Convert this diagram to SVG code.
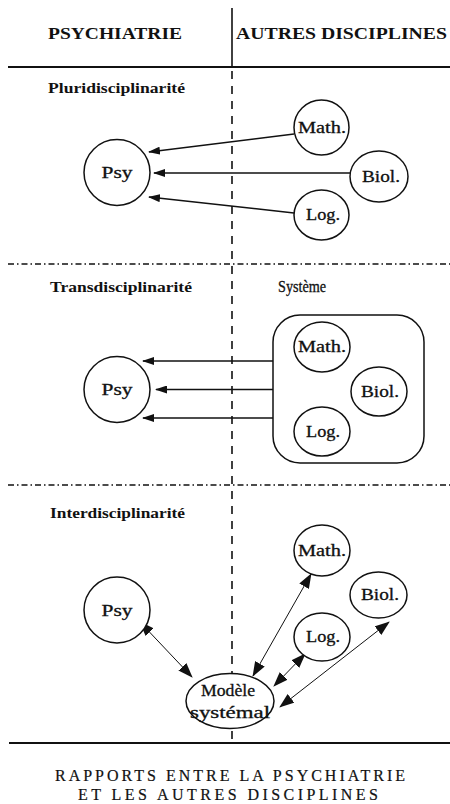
<svg xmlns="http://www.w3.org/2000/svg" width="450" height="804" viewBox="0 0 450 804">
  <style>
    .bg { fill: #ffffff; }
    .rule { stroke: #111; stroke-width: 2; fill: none; }
    .vsolid { stroke: #111; stroke-width: 1.6; fill: none; }
    .vdash { stroke: #111; stroke-width: 1.6; fill: none; stroke-dasharray: 8 7; }
    .dashdot { stroke: #111; stroke-width: 1.6; fill: none; stroke-dasharray: 6 3 1.5 3; }
    .node { fill: #fff; stroke: #111; stroke-width: 1.5; }
    .frame { fill: none; stroke: #111; stroke-width: 1.5; }
    .lbl { font-family: "Liberation Serif", "DejaVu Serif", serif; font-size: 16px; fill: #111; stroke: #111; stroke-width: 0.3; text-anchor: middle; }
    .head { font-family: "Liberation Serif", "DejaVu Serif", serif; font-size: 16px; font-weight: bold; fill: #111; }
    .sect { font-family: "Liberation Serif", "DejaVu Serif", serif; font-size: 15px; font-weight: bold; fill: #111; }
    .sys { font-family: "Liberation Serif", "DejaVu Serif", serif; font-size: 16px; fill: #111; stroke: #111; stroke-width: 0.3; }
    .title { font-family: "Liberation Serif", "DejaVu Serif", serif; font-size: 16px; fill: #111; stroke: #111; stroke-width: 0.2; }
    .arrow { stroke: #111; stroke-width: 1.5; fill: none; marker-end: url(#ah); }
    .link { stroke: #111; stroke-width: 1; fill: none; marker-start: url(#ah2); marker-end: url(#ah2); }
  </style>
  <defs>
    <marker id="ah" viewBox="0 0 12 8" refX="11" refY="4" markerWidth="12" markerHeight="8" orient="auto" markerUnits="userSpaceOnUse">
      <path d="M0,0 L12,4 L0,8 z" fill="#111"/>
    </marker>
    <marker id="ah2" viewBox="0 0 15 11" refX="14" refY="5.5" markerWidth="15" markerHeight="11" orient="auto-start-reverse" markerUnits="userSpaceOnUse">
      <path d="M0,0 L15,5.5 L0,11 z" fill="#111"/>
    </marker>
  </defs>

  <rect class="bg" x="0" y="0" width="450" height="804"/>

  <!-- frame: column split, header rule, section separators, footer rule -->
  <g id="frame">
    <line class="vsolid" x1="232" y1="8" x2="232" y2="67"/>
    <line class="vdash" x1="232" y1="71" x2="232" y2="743"/>
    <line class="rule" x1="8" y1="67" x2="450" y2="67"/>
    <line class="dashdot" x1="8" y1="264" x2="450" y2="264"/>
    <line class="dashdot" x1="8" y1="485" x2="450" y2="485"/>
    <line class="rule" x1="9" y1="743" x2="450" y2="743"/>
  </g>

  <!-- column headings -->
  <g id="headings">
    <text class="head" x="48" y="39" textLength="134" lengthAdjust="spacingAndGlyphs">PSYCHIATRIE</text>
    <text class="head" x="236" y="39" textLength="211" lengthAdjust="spacingAndGlyphs">AUTRES DISCIPLINES</text>
  </g>

  <!-- section labels -->
  <g id="section-labels">
    <text class="sect" x="48" y="93" textLength="137" lengthAdjust="spacingAndGlyphs">Pluridisciplinarité</text>
    <text class="sect" x="50" y="292" textLength="142" lengthAdjust="spacingAndGlyphs">Transdisciplinarité</text>
    <text class="sys" x="278" y="292" textLength="48" lengthAdjust="spacingAndGlyphs">Système</text>
    <text class="sect" x="50" y="518" textLength="135" lengthAdjust="spacingAndGlyphs">Interdisciplinarité</text>
  </g>

  <!-- connectors -->
  <g id="connectors">
    <!-- pluridisciplinarity: each discipline feeds psychiatry -->
    <path class="arrow" d="M294,134 L149,152"/>
    <path class="arrow" d="M350,173 L154,173"/>
    <path class="arrow" d="M294,213 L149,197"/>
    <!-- transdisciplinarity: the system feeds psychiatry -->
    <path class="arrow" d="M273,361 L143,361"/>
    <path class="arrow" d="M273,389.5 L156,389.5"/>
    <path class="arrow" d="M273,418 L143,418"/>
    <!-- interdisciplinarity: two-way exchange through the systemic model -->
    <path class="link" d="M140,622 L192,677"/>
    <path class="link" d="M311,574 L253,676"/>
    <path class="link" d="M305,654 L274,686"/>
    <path class="link" d="M389,622 L280,707"/>
  </g>

  <!-- pluridisciplinarity nodes -->
  <g id="psy-1"><circle class="node" cx="117" cy="172.5" r="33"/><text class="lbl" x="117" y="178" textLength="31" lengthAdjust="spacingAndGlyphs">Psy</text></g>
  <g id="math-1"><ellipse class="node" cx="321.5" cy="127.5" rx="27.5" ry="27.5"/><text class="lbl" x="322" y="133" textLength="48" lengthAdjust="spacingAndGlyphs">Math.</text></g>
  <g id="biol-1"><ellipse class="node" cx="379" cy="176.5" rx="29" ry="25.5"/><text class="lbl" x="381" y="182" textLength="38" lengthAdjust="spacingAndGlyphs">Biol.</text></g>
  <g id="log-1"><ellipse class="node" cx="321.5" cy="215" rx="27.5" ry="25"/><text class="lbl" x="323" y="220" textLength="34" lengthAdjust="spacingAndGlyphs">Log.</text></g>

  <!-- transdisciplinarity nodes -->
  <g id="psy-2"><circle class="node" cx="117" cy="389.5" r="33"/><text class="lbl" x="117" y="395" textLength="31" lengthAdjust="spacingAndGlyphs">Psy</text></g>
  <g id="systeme">
    <rect class="frame" x="273" y="315" width="151" height="148" rx="27" ry="27"/>
    <g id="math-2"><ellipse class="node" cx="322" cy="347" rx="28" ry="25"/><text class="lbl" x="322" y="352" textLength="48" lengthAdjust="spacingAndGlyphs">Math.</text></g>
    <g id="biol-2"><ellipse class="node" cx="379" cy="391.5" rx="28" ry="24.5"/><text class="lbl" x="380" y="397" textLength="38" lengthAdjust="spacingAndGlyphs">Biol.</text></g>
    <g id="log-2"><ellipse class="node" cx="322" cy="431.5" rx="28" ry="24.5"/><text class="lbl" x="323" y="437" textLength="34" lengthAdjust="spacingAndGlyphs">Log.</text></g>
  </g>

  <!-- interdisciplinarity nodes -->
  <g id="psy-3"><circle class="node" cx="117" cy="610" r="33"/><text class="lbl" x="117" y="616" textLength="31" lengthAdjust="spacingAndGlyphs">Psy</text></g>
  <g id="math-3"><ellipse class="node" cx="322" cy="550.5" rx="28" ry="25.5"/><text class="lbl" x="322" y="556" textLength="48" lengthAdjust="spacingAndGlyphs">Math.</text></g>
  <g id="biol-3"><ellipse class="node" cx="378.5" cy="595" rx="28.5" ry="23"/><text class="lbl" x="380" y="600" textLength="38" lengthAdjust="spacingAndGlyphs">Biol.</text></g>
  <g id="log-3"><ellipse class="node" cx="322" cy="637" rx="28" ry="24"/><text class="lbl" x="323" y="642" textLength="34" lengthAdjust="spacingAndGlyphs">Log.</text></g>
  <g id="modele">
    <ellipse class="node" cx="230" cy="701" rx="44" ry="27.5"/>
    <text class="lbl" x="228" y="696" textLength="54" lengthAdjust="spacingAndGlyphs">Modèle</text>
    <text class="lbl" x="230" y="718" textLength="80" lengthAdjust="spacingAndGlyphs">systémal</text>
  </g>

  <!-- caption -->
  <g id="caption">
    <text class="title" x="55" y="781" textLength="350" lengthAdjust="spacing">RAPPORTS ENTRE LA PSYCHIATRIE</text>
    <text class="title" x="78" y="800" textLength="300" lengthAdjust="spacing">ET LES AUTRES DISCIPLINES</text>
  </g>
</svg>
